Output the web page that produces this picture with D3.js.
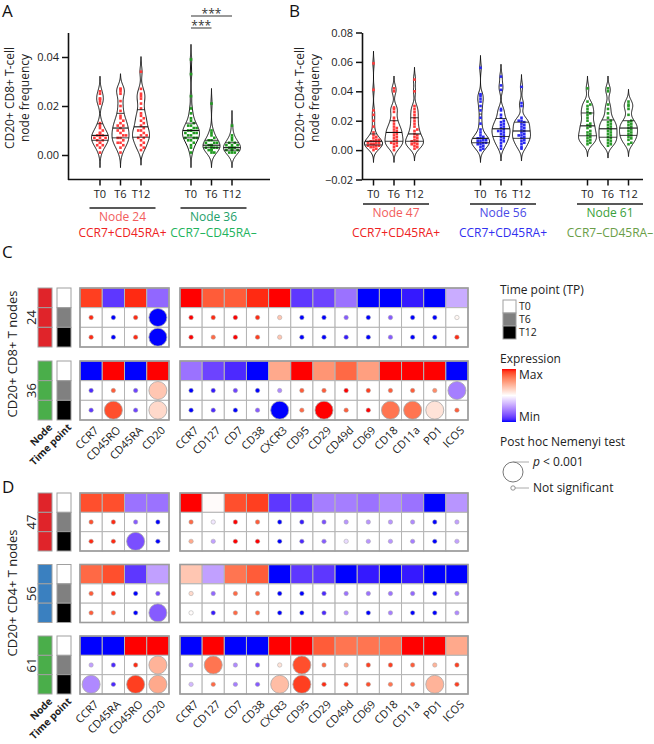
<!DOCTYPE html>
<html><head><meta charset="utf-8">
<script src="https://d3js.org/d3.v7.min.js"></script>
<style>html,body{margin:0;padding:0;background:#fff;}</style>
</head><body>
<svg id="chart" width="654" height="744" xmlns="http://www.w3.org/2000/svg"></svg>
<script>
// ---------------- DATA ----------------
const timePoints = ["T0", "T6", "T12"];
const nodesA = ["24", "36"];
const nodesB = ["47", "56", "61"];
const ticksA = [0, 0.02, 0.04];
const ticksB = [-0.02, 0, 0.02, 0.04, 0.06, 0.08];

// Panel A: CD20+ CD8+ T-cell node frequency
const a24_T0 = [0.026,0.025,0.023,0.023,0.022,0.021,0.013,0.012,0.011,0.010,0.009,0.009,0.008,0.008,0.008,0.007,0.007,0.007,0.006,0.006,0.005,0.005,0.004,0.004,0.003,0.001];
const a24_T6 = [0.027,0.027,0.026,0.025,0.022,0.020,0.018,0.016,0.015,0.014,0.013,0.012,0.012,0.011,0.010,0.010,0.009,0.008,0.008,0.007,0.007,0.006,0.005,0.005,0.004,0.003,0.001];
const a24_T12 = [0.034,0.027,0.025,0.024,0.023,0.021,0.019,0.017,0.016,0.015,0.014,0.013,0.012,0.011,0.010,0.010,0.009,0.008,0.008,0.007,0.007,0.006,0.005,0.004,0.003,0.002];
const a36_T0 = [0.039,0.033,0.024,0.019,0.017,0.015,0.014,0.013,0.012,0.012,0.011,0.011,0.010,0.010,0.010,0.009,0.009,0.009,0.008,0.008,0.007,0.007,0.007,0.006,0.006,0.005,0.004,0.003,0.001];
const a36_T6 = [0.021,0.010,0.009,0.008,0.007,0.006,0.006,0.005,0.005,0.005,0.004,0.004,0.004,0.004,0.003,0.003,0.003,0.003,0.002,0.002,0.002,0.001,0.001];
const a36_T12 = [0.012,0.008,0.007,0.006,0.005,0.005,0.004,0.004,0.004,0.003,0.003,0.003,0.003,0.003,0.002,0.002,0.002,0.002,0.001,0.001,0.001];

// Panel B: CD20+ CD4+ T-cell node frequency
const b47_T0 = [0.059,0.041,0.027,0.024,0.020,0.016,0.012,0.010,0.009,0.008,0.007,0.007,0.006,0.006,0.005,0.005,0.005,0.004,0.004,0.004,0.003,0.003,0.003,0.002,0.002,0.001,0.000];
const b47_T6 = [0.042,0.040,0.029,0.028,0.026,0.022,0.020,0.018,0.016,0.015,0.014,0.013,0.012,0.011,0.010,0.009,0.008,0.007,0.006,0.005,0.005,0.004,0.003,0.002,0.000];
const b47_T12 = [0.048,0.040,0.030,0.028,0.026,0.024,0.022,0.020,0.018,0.016,0.014,0.013,0.011,0.010,0.009,0.008,0.007,0.006,0.006,0.005,0.004,0.004,0.003,0.002,0.001];
const b56_T0 = [0.056,0.038,0.037,0.035,0.033,0.030,0.027,0.022,0.018,0.014,0.012,0.010,0.009,0.008,0.008,0.007,0.007,0.006,0.006,0.005,0.005,0.004,0.004,0.003,0.002,0.001,0.000];
const b56_T6 = [0.050,0.044,0.041,0.028,0.027,0.024,0.022,0.020,0.019,0.018,0.017,0.016,0.015,0.014,0.013,0.013,0.012,0.011,0.010,0.009,0.008,0.007,0.006,0.005,0.003,0.001];
const b56_T12 = [0.043,0.032,0.030,0.022,0.020,0.020,0.019,0.018,0.017,0.016,0.015,0.014,0.013,0.012,0.011,0.010,0.010,0.009,0.008,0.007,0.006,0.005,0.004,0.002,0.001];
const b61_T0 = [0.042,0.033,0.031,0.030,0.028,0.026,0.025,0.024,0.022,0.020,0.018,0.017,0.016,0.015,0.013,0.012,0.011,0.010,0.009,0.008,0.007,0.006,0.005,0.004];
const b61_T6 = [0.042,0.040,0.031,0.028,0.025,0.022,0.020,0.019,0.018,0.017,0.016,0.015,0.014,0.013,0.012,0.011,0.010,0.009,0.008,0.007,0.006,0.005,0.004,0.003];
const b61_T12 = [0.033,0.031,0.030,0.028,0.024,0.020,0.019,0.018,0.017,0.016,0.015,0.014,0.013,0.012,0.011,0.010,0.009,0.008,0.007,0.005,0.004];

const nodeNames = {"24":"Node 24","36":"Node 36","47":"Node 47","56":"Node 56","61":"Node 61"};
const nodePhenotypes = {"24":"CCR7+CD45RA+","36":"CCR7\u2013CD45RA\u2013","47":"CCR7+CD45RA+","56":"CCR7+CD45RA+","61":"CCR7\u2013CD45RA\u2013"};

// Heatmap markers
const markersLeftC = ["CCR7","CD45RO","CD45RA","CD20"];
const markersLeftD = ["CCR7","CD45RA","CD45RO","CD20"];
const markersRight = ["CCR7","CD127","CD7","CD38","CXCR3","CD95","CD29","CD49d","CD69","CD18","CD11a","PD1","ICOS"];

// scaled expression (-1 = Min, 1 = Max); first 4 = left block, then 13 right block
const n24_T0  = [0.9,-0.85,0.95,-0.65, 1.0,0.8,0.8,0.95,1.0,-0.85,-0.8,-0.6,-1,-1,-0.95,-1,-0.35];
const n24_T6  = [0.95,-1,0.95,-1, 1,0.95,1,0.95,0.3,-1,-1,-0.7,-1,-0.7,-1,-1,0.05];
const n24_T12 = [0.95,-1,0.95,-1, 1,0.75,1,0.9,0.3,-1,-1,-0.95,-1,-0.7,-1,-1,0.95];
const n24_sigT6  = [0,0,0,1, 0,0,0,0,0,0,0,0,0,0,0,0,0];
const n24_sigT12 = [0,0,0,1, 0,0,0,0,0,0,0,0,0,0,0,0,0];

const n36_T0  = [-1,1,-1,1, -0.6,-0.8,-0.9,-1,0.45,1,0.55,0.75,0.5,1,1,1,-1];
const n36_T6  = [-0.9,0.8,-0.8,0.3, -1,-0.95,-0.8,-1,-0.5,0.8,0.8,1,0.9,0.8,0.8,0.6,-0.55];
const n36_T12 = [-0.85,0.85,-0.8,0.2, -1,-0.9,-1,-0.7,-1,0.75,1,0.8,1,0.7,0.7,0.15,0.8];
const n36_sigT6  = [0,0,0,1, 0,0,0,0,0,0,0,0,0,0,0,0,1];
const n36_sigT12 = [0,1,0,1, 0,0,0,0,1,0,1,0,0,1,1,1,0];

const n47_T0  = [0.85,0.85,-0.6,-0.6, 1,0.02,0.85,0.9,-0.85,-0.8,-0.55,-0.55,-0.6,-0.5,-0.6,-1,-0.45];
const n47_T6  = [0.85,0.95,-0.7,-1, 0.75,-0.1,1,0.8,-1,-0.95,-0.75,-0.45,-0.45,-0.45,-0.5,-1,-0.4];
const n47_T12 = [0.95,0.95,-0.75,-1, 0.45,-0.4,1,1,-1,-0.9,-0.7,-0.15,-0.45,-0.45,-0.55,-1,-0.4];
const n47_sigT6  = [0,0,0,0, 0,0,0,0,0,0,0,0,0,0,0,0,0];
const n47_sigT12 = [0,0,1,0, 0,0,0,0,0,0,0,0,0,0,0,0,0];

const n56_T0  = [0.75,0.85,-0.85,-0.4, 0.3,-0.4,0.7,0.8,-1,-0.85,-0.85,-1,-0.95,-1,-0.95,-1,-1];
const n56_T6  = [0.8,0.95,-1,-0.75, 0.2,-0.65,0.75,0.75,-1,-1,-0.9,-0.6,-0.6,-0.6,-0.65,-1,-0.55];
const n56_T12 = [0.8,0.8,-1,-0.7, 0.02,-0.95,0.75,0.75,-1,-1,-0.9,-0.45,-1,-0.55,-1,-1,-0.5];
const n56_sigT6  = [0,0,0,0, 0,0,0,0,0,0,0,0,0,0,0,0,0];
const n56_sigT12 = [0,0,0,1, 0,0,0,0,0,0,0,0,0,0,0,0,0];

const n61_T0  = [-1,-1,1,1, -1,1,-1,-1,1,1,0.8,0.7,0.7,0.7,1,1,0.45];
const n61_T6  = [-0.4,-0.9,0.95,0.4, -0.45,0.7,-0.5,-0.75,0.15,0.85,0.75,0.45,0.9,0.9,0.8,0.4,0.9];
const n61_T12 = [-0.5,-0.9,0.9,0.45, -0.3,0.75,-0.55,-0.7,0.35,0.9,0.95,0.9,0.85,0.7,0.75,0.4,0.9];
const n61_sigT6  = [0,0,0,1, 0,1,0,0,0,1,0,0,0,0,0,0,0];
const n61_sigT12 = [1,0,1,1, 0,0,0,0,1,1,0,0,0,0,0,1,0];

// ---------------- STYLE ----------------
const FONT = "'Open Sans', 'Noto Sans', sans-serif";
const TXT = "#222";
const nodePointColor = {"24":"#ff3b3b","36":"#1f9a1f","47":"#ff3b3b","56":"#2a2af0","61":"#2a9a2a"};
const nodeNameColor = {"24":"#f25c5c","36":"#1da06a","47":"#f25c5c","56":"#4a4ae6","61":"#3aa03a"};
const nodePhenoColor = {"24":"#ee2222","36":"#22b35c","47":"#ee2222","56":"#3030f0","61":"#6a9e48"};
const nodeBarColor = {"24":"#e0242a","36":"#4aae4a","47":"#e0242a","56":"#3a80c0","61":"#4aae4a"};
const tpFill = {"T0":"#ffffff","T6":"#808080","T12":"#000000"};

const svg = d3.select("#chart").style("font-family", FONT);

// panel letters
[["A",2,17],["B",289,17],["C",2,258],["D",2,493]].forEach(([t,x,y]) =>
  svg.append("text").attr("x",x).attr("y",y).text(t).attr("font-size",17).attr("fill","#111"));

// ---------------- VIOLINS ----------------
const violinData = {
  "24":[a24_T0,a24_T6,a24_T12], "36":[a36_T0,a36_T6,a36_T12],
  "47":[b47_T0,b47_T6,b47_T12], "56":[b56_T0,b56_T6,b56_T12], "61":[b61_T0,b61_T6,b61_T12]
};
const xTP = d3.scalePoint().domain(timePoints).range([-20.5, 20.5]);

function drawViolin(g, values, cx, y, bw, color, maxHalf) {
  const lo = d3.min(values) - 2.8*bw, hi = d3.max(values) + 2.8*bw;
  const n = 120;
  const densAt = t => d3.sum(values, v => Math.exp(-0.5*((t-v)/bw)**2));
  const dens = d3.range(n+1).map(i => { const t = lo + (hi-lo)*i/n; return [t, densAt(t)]; });
  const w = d3.scaleLinear().domain([0, d3.max(dens, d => d[1])]).range([0, maxHalf]);
  g.append("path").datum(dens)
    .attr("d", d3.area().curve(d3.curveCatmullRom).y(d => y(d[0])).x0(d => cx - w(d[1])).x1(d => cx + w(d[1])))
    .attr("fill","#fff").attr("stroke","#111").attr("stroke-width",1);
  const s = values.slice().sort(d3.ascending);
  // beeswarm points (deterministic)
  const placed = [];
  s.forEach(v => {
    const py = y(v);
    const hw = Math.max(0, w(densAt(v)) - 1.8);
    const cands = [0];
    for (let k = 1; k < 8; k++) cands.push(k*2.8, -k*2.8);
    let off = 0;
    for (const c of cands) {
      if (c !== 0 && Math.abs(c) > hw) continue;
      if (placed.every(p => Math.hypot(p[0]-c, p[1]-py) >= 2.6)) { off = c; break; }
    }
    placed.push([off, py]);
  });
  g.selectAll(null).data(placed).enter().append("rect")
    .attr("x", d => cx + d[0] - 1.3).attr("y", d => d[1] - 1.3)
    .attr("width", 2.6).attr("height", 2.6).attr("fill", color);
  [0.25, 0.5, 0.75].forEach(q => {
    const t = d3.quantile(s, q);
    const hw = w(densAt(t));
    g.append("line").attr("x1", cx - hw).attr("x2", cx + hw).attr("y1", y(t)).attr("y2", y(t))
      .attr("stroke","#111").attr("stroke-width", q === 0.5 ? 1.1 : 0.8);
  });
}

function violinPanel(opts) {
  const {y, xNode, nodes, ticks, axisX, axisXEnd, axisYBottom, bw, maxHalf, underlineY, nameY, phenoY, title, titleX} = opts;
  const g = svg.append("g");
  // y axis
  const ya = g.append("g").attr("transform", `translate(${axisX},0)`)
    .call(d3.axisLeft(y).tickValues(ticks).tickFormat(d3.format(".2f")).tickSize(6).tickSizeOuter(0).tickPadding(3));
  ya.selectAll(".domain").attr("stroke","#111").attr("stroke-width",1.6);
  ya.selectAll(".tick line").attr("stroke","#111").attr("stroke-width",1.5);
  ya.selectAll(".tick text").attr("font-size",11).attr("fill",TXT).attr("font-family",FONT);
  // x axis line
  g.append("line").attr("x1", axisX).attr("x2", axisXEnd).attr("y1", axisYBottom).attr("y2", axisYBottom)
    .attr("stroke","#111").attr("stroke-width",1.6);
  nodes.forEach(nd => {
    const gc = xNode(nd);
    timePoints.forEach((tp, i) => {
      const cx = gc + xTP(tp);
      g.append("line").attr("x1",cx).attr("x2",cx).attr("y1",axisYBottom).attr("y2",axisYBottom+6)
        .attr("stroke","#111").attr("stroke-width",1.5);
      g.append("text").attr("x",cx).attr("y",axisYBottom+18).attr("text-anchor","middle")
        .attr("font-size",11).attr("fill",TXT).text(tp);
      drawViolin(g, violinData[nd][i], cx, y, bw, nodePointColor[nd], maxHalf);
    });
    g.append("line").attr("x1", gc - 31).attr("x2", gc + 35).attr("y1", underlineY).attr("y2", underlineY)
      .attr("stroke","#222").attr("stroke-width",1.5);
    g.append("text").attr("x", gc + 2).attr("y", nameY).attr("text-anchor","middle").attr("font-size",12)
      .attr("fill", nodeNameColor[nd]).text(nodeNames[nd]);
    g.append("text").attr("x", gc + 2).attr("y", phenoY).attr("text-anchor","middle").attr("font-size",12)
      .attr("fill", nodePhenoColor[nd]).text(nodePhenotypes[nd]);
  });
  title.forEach((t, i) => {
    g.append("text").attr("transform", `translate(${titleX[i]},98) rotate(-90)`).attr("dy","0.35em")
      .attr("text-anchor","middle").attr("font-size",12).attr("fill",TXT).text(t);
  });
  return g;
}

const yA = d3.scaleLinear().domain([-0.01, 0.05]).range([179.5, 32.5]);
const yB = d3.scaleLinear().domain([-0.02, 0.08]).range([179.5, 32.5]);
const xA = d3.scalePoint().domain(nodesA).range([120.5, 211.5]);
const xB = d3.scalePoint().domain(nodesB).range([394, 608]);

const gA = violinPanel({y:yA, xNode:xA, nodes:nodesA, ticks:ticksA, axisX:68, axisXEnd:270, axisYBottom:179.5,
  bw:0.0022, maxHalf:8.5, underlineY:208, nameY:221, phenoY:237,
  title:["CD20+ CD8+ T-cell","node frequency"], titleX:[10,25]});
const gB = violinPanel({y:yB, xNode:xB, nodes:nodesB, ticks:ticksB, axisX:362, axisXEnd:643, axisYBottom:179.5,
  bw:0.003, maxHalf:9, underlineY:204, nameY:217, phenoY:237,
  title:["CD20+ CD4+ T-cell","node frequency"], titleX:[300,315]});

// significance bars (panel A, node 36)
const sigBars = [{node:"36", from:"T0", to:"T12", y:16}, {node:"36", from:"T0", to:"T6", y:28}];
sigBars.forEach(b => {
  const x1 = xA(b.node) + xTP(b.from), x2 = xA(b.node) + xTP(b.to);
  gA.append("line").attr("x1",x1).attr("x2",x2).attr("y1",b.y).attr("y2",b.y).attr("stroke","#777").attr("stroke-width",1.5);
  gA.append("text").attr("x",(x1+x2)/2).attr("y",b.y+1.5).attr("text-anchor","middle").attr("font-size",12)
    .attr("fill","#333").text("***");
});

// ---------------- HEATMAPS ----------------
const color = d3.scaleLinear().domain([-1,0,1]).range(["#0000ff","#ffffff","#ff0000"]).interpolate(d3.interpolateLab);
const xHmLeft = d3.scaleBand().domain(d3.range(4)).range([80, 169]);
const xHmRight = d3.scaleBand().domain(d3.range(4, 17)).range([180, 468]);
const hx = i => i < 4 ? xHmLeft(i) : xHmRight(i);
const hw = i => i < 4 ? xHmLeft.bandwidth() : xHmRight.bandwidth();
const radius = d3.scaleOrdinal().domain([0,1]).range([2.2, 9]);
const GRID = "#b4b4b4";

function drawBlock(top, height, node, T0, T6, T12, s6, s12) {
  const g = svg.append("g");
  const yRow = d3.scaleBand().domain(timePoints).range([top, top + height]);
  const rh = yRow.bandwidth();
  // node + timepoint columns
  timePoints.forEach(tp => {
    g.append("rect").attr("x",38).attr("y",yRow(tp)).attr("width",14).attr("height",rh)
      .attr("fill",nodeBarColor[node]).attr("stroke","#a0a0a0").attr("stroke-width",1);
    g.append("rect").attr("x",57).attr("y",yRow(tp)).attr("width",14).attr("height",rh)
      .attr("fill",tpFill[tp]).attr("stroke","#a0a0a0").attr("stroke-width",1);
  });
  // header row: T0 expression
  g.selectAll(null).data(T0).enter().append("rect")
    .attr("x",(d,i)=>hx(i)).attr("y",yRow("T0")).attr("width",(d,i)=>hw(i)).attr("height",rh)
    .attr("fill",d=>color(d)).attr("stroke",GRID).attr("stroke-width",1);
  [["T6",T6,s6],["T12",T12,s12]].forEach(([tp, vals, sig]) => {
    g.selectAll(null).data(vals).enter().append("rect")
      .attr("x",(d,i)=>hx(i)).attr("y",yRow(tp)).attr("width",(d,i)=>hw(i)).attr("height",rh)
      .attr("fill","#fff").attr("stroke",GRID).attr("stroke-width",1);
    g.selectAll(null).data(vals).enter().append("circle")
      .attr("cx",(d,i)=>hx(i)+hw(i)/2).attr("cy",yRow(tp)+rh/2).attr("r",(d,i)=>radius(sig[i]))
      .attr("fill",d=>color(d)).attr("stroke","#a8a8a8").attr("stroke-width",(d,i)=>sig[i]?0.8:0.5);
  });
  // outer borders
  [[80,169],[180,468]].forEach(([a,b]) => g.append("rect").attr("x",a).attr("y",top).attr("width",b-a).attr("height",height)
    .attr("fill","none").attr("stroke","#9c9c9c").attr("stroke-width",1.6));
  g.append("text").attr("transform",`translate(31,${top+height/2}) rotate(-90)`).attr("dy","0.35em")
    .attr("text-anchor","middle").attr("font-size",13).attr("fill",TXT).text(node);
}

function columnLabels(bottom, leftMarkers) {
  const g = svg.append("g");
  const labels = leftMarkers.concat(markersRight);
  labels.forEach((m, i) => {
    const cx = hx(i) + hw(i)/2;
    g.append("text").attr("transform",`translate(${cx+8},${bottom+11}) rotate(-45)`)
      .attr("text-anchor","end").attr("font-size",11).attr("fill",TXT).text(m);
  });
  [["Node",45],["Time point",64]].forEach(([t,cx]) =>
    g.append("text").attr("transform",`translate(${cx+8},${bottom+8}) rotate(-45)`)
      .attr("text-anchor","end").attr("font-size",10).attr("font-weight","bold").attr("fill",TXT).text(t));
}

const HB = 59;
drawBlock(288, HB, "24", n24_T0, n24_T6, n24_T12, n24_sigT6, n24_sigT12);
drawBlock(361, HB, "36", n36_T0, n36_T6, n36_T12, n36_sigT6, n36_sigT12);
columnLabels(361 + HB, markersLeftC);
svg.append("text").attr("transform","translate(12,354) rotate(-90)").attr("dy","0.35em").attr("text-anchor","middle")
  .attr("font-size",13).attr("fill",TXT).text("CD20+ CD8+ T nodes");

const HD = 58;
drawBlock(493, HD, "47", n47_T0, n47_T6, n47_T12, n47_sigT6, n47_sigT12);
drawBlock(564.5, HD, "56", n56_T0, n56_T6, n56_T12, n56_sigT6, n56_sigT12);
drawBlock(636, HD, "61", n61_T0, n61_T6, n61_T12, n61_sigT6, n61_sigT12);
columnLabels(636 + HD, markersLeftD);
svg.append("text").attr("transform","translate(12,593) rotate(-90)").attr("dy","0.35em").attr("text-anchor","middle")
  .attr("font-size",13).attr("fill",TXT).text("CD20+ CD4+ T nodes");

// ---------------- LEGEND ----------------
const lg = svg.append("g").attr("font-size",12).attr("fill",TXT);
lg.append("text").attr("x",500).attr("y",294).text("Time point (TP)");
const yTPleg = d3.scaleBand().domain(timePoints).range([300, 339]);
timePoints.forEach(tp => {
  lg.append("rect").attr("x",503).attr("y",yTPleg(tp)).attr("width",13).attr("height",yTPleg.bandwidth())
    .attr("fill",tpFill[tp]).attr("stroke","#a0a0a0").attr("stroke-width",1);
  lg.append("text").attr("x",519).attr("y",yTPleg(tp)+yTPleg.bandwidth()/2).attr("dy","0.35em")
    .attr("font-size",10.5).text(tp);
});
lg.append("text").attr("x",500).attr("y",363).text("Expression");
const grad = svg.append("defs").append("linearGradient").attr("id","expr").attr("x1",0).attr("x2",0).attr("y1",0).attr("y2",1);
d3.range(0, 1.0001, 0.05).forEach(o => grad.append("stop").attr("offset",o).attr("stop-color",color(1 - 2*o)));
lg.append("rect").attr("x",502).attr("y",369).attr("width",14).attr("height",53).attr("fill","url(#expr)");
lg.append("text").attr("x",519).attr("y",375).attr("dy","0.35em").text("Max");
lg.append("text").attr("x",519).attr("y",417).attr("dy","0.35em").text("Min");
lg.append("text").attr("x",500).attr("y",446).text("Post hoc Nemenyi test");
lg.append("line").attr("x1",513).attr("x2",529).attr("y1",462).attr("y2",462).attr("stroke","#aaa").attr("stroke-width",1);
lg.append("circle").attr("cx",513).attr("cy",472).attr("r",radius(1)+1).attr("fill","#fff").attr("stroke","#777").attr("stroke-width",1);
lg.append("line").attr("x1",513).attr("x2",529).attr("y1",488).attr("y2",488).attr("stroke","#aaa").attr("stroke-width",1);
lg.append("circle").attr("cx",513).attr("cy",488).attr("r",radius(0)).attr("fill","#fff").attr("stroke","#777").attr("stroke-width",0.8);
const pt = lg.append("text").attr("x",533).attr("y",462).attr("dy","0.35em");
pt.append("tspan").attr("font-style","italic").text("p");
pt.append("tspan").text(" < 0.001");
lg.append("text").attr("x",533).attr("y",488).attr("dy","0.35em").text("Not significant");
</script>
</body></html>
